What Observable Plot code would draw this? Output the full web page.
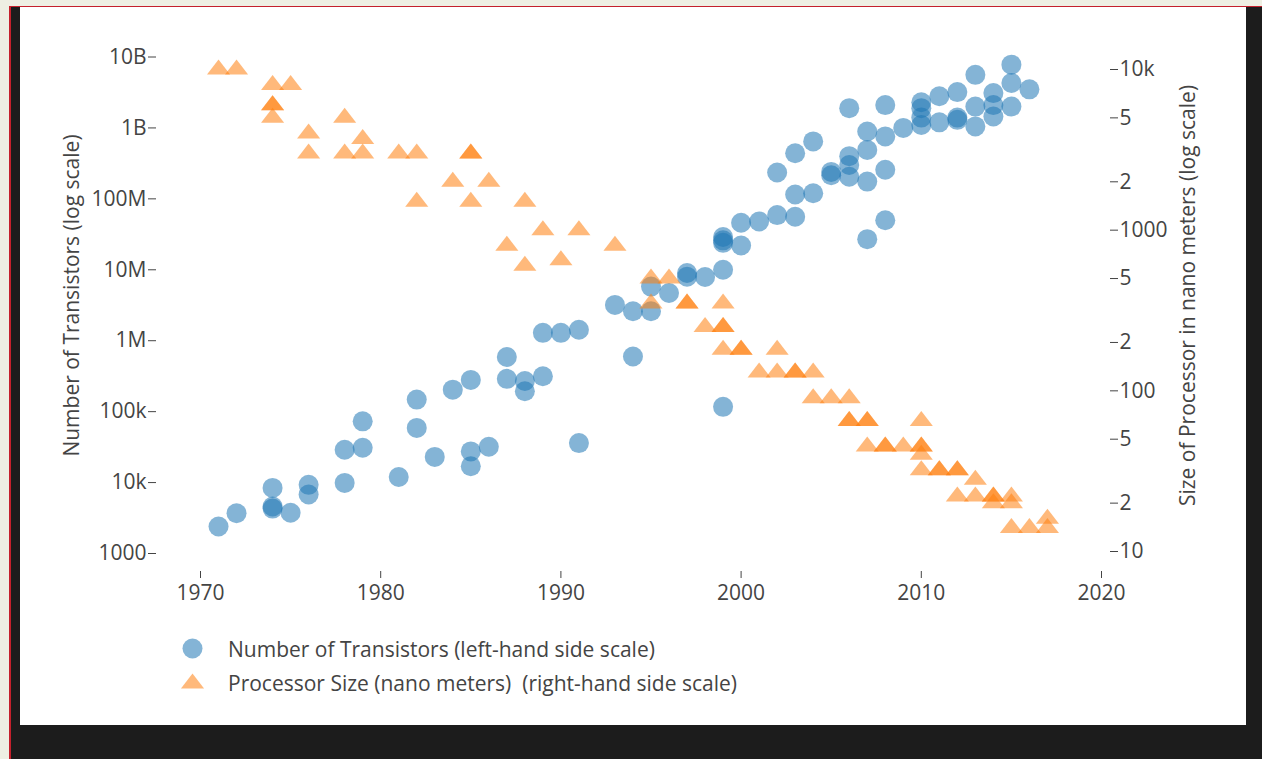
<!DOCTYPE html>
<html>
<head>
<meta charset="utf-8">
<script src="https://cdn.jsdelivr.net/npm/d3@7"></script>
<script src="https://cdn.jsdelivr.net/npm/@observablehq/plot@0.6"></script>
<style>
  html, body { margin: 0; padding: 0; }
  body { width: 1262px; height: 759px; overflow: hidden; background: #eeefe3; font-family: "Open Sans", sans-serif; }
  #page { position: relative; width: 1262px; height: 759px; }
  #dark { position: absolute; left: 9px; top: 6px; width: 1253px; height: 753px; background: #1c1c1c;
          border-top: 1px solid #c4202c; border-left: 2px solid #c4202c; box-sizing: border-box; }
  #panel { position: absolute; left: 20px; top: 7px; width: 1226px; height: 718px; background: #ffffff; }
  .layer { position: absolute; left: 0; top: 0; }
  .layer svg { background: transparent !important; overflow: visible; }
</style>
</head>
<body>
<div id="page">
  <div id="dark"></div>
  <div id="panel"></div>
  <div id="c1" class="layer"></div>
  <div id="c2" class="layer"></div>
  <div id="legend" class="layer"></div>
</div>
<script>
// ---------- data ----------
const transistorYear = [
  1971, 1972, 1974, 1974, 1974, 1975, 1976, 1976, 1978, 1978,
  1979, 1979, 1981, 1982, 1982, 1983, 1984, 1985, 1985, 1985,
  1986, 1987, 1987, 1988, 1988, 1989, 1989, 1990, 1991, 1991,
  1993, 1994, 1994, 1995, 1995, 1996, 1997, 1997, 1998, 1999,
  1999, 1999, 1999, 1999, 2000, 2000, 2001, 2002, 2002, 2003,
  2003, 2003, 2004, 2004, 2005, 2005, 2006, 2006, 2006, 2006,
  2007, 2007, 2007, 2007, 2008, 2008, 2008, 2008, 2009, 2010,
  2010, 2010, 2010, 2011, 2011, 2012, 2012, 2012, 2013, 2013,
  2013, 2014, 2014, 2014, 2015, 2015, 2015, 2016
];
const transistorCount = [
  2400, 3700, 8400, 4600, 4300, 3750, 9300, 6800, 9900, 29000,
  31000, 73000, 12000, 59000, 148000, 23000, 204000, 280000, 27500, 17000,
  32000, 590000, 290000, 270000, 194000, 316000, 1290000, 1290000, 1430000, 36000,
  3200000, 2600000, 600000, 2600000, 5800000, 4700000, 8000000, 9000000, 7900000, 10000000,
  29000000, 24000000, 26000000, 117000, 22000000, 46000000, 48000000, 59000000, 235000000, 56000000,
  115000000, 440000000, 120000000, 645000000, 240000000, 215000000, 1900000000, 400000000, 300000000, 205000000,
  890000000, 490000000, 175000000, 27000000, 2100000000, 760000000, 257000000, 50000000, 1000000000, 2300000000,
  1900000000, 1400000000, 1100000000, 2800000000, 1200000000, 3200000000, 1400000000, 1300000000, 5600000000, 2000000000,
  1050000000, 3100000000, 2100000000, 1450000000, 7800000000, 4300000000, 2000000000, 3500000000
];
const sizeYear = [
  1971, 1972, 1974, 1975, 1974, 1974, 1974, 1976, 1976, 1978,
  1978, 1979, 1979, 1981, 1982, 1982, 1984, 1985, 1985, 1985,
  1986, 1987, 1988, 1988, 1989, 1990, 1991, 1993, 1995, 1995,
  1996, 1997, 1997, 1998, 1999, 1999, 1999, 1999, 2000, 2000,
  2001, 2002, 2002, 2003, 2003, 2004, 2004, 2005, 2006, 2006,
  2006, 2007, 2007, 2007, 2008, 2008, 2009, 2010, 2010, 2010,
  2010, 2010, 2011, 2011, 2012, 2012, 2012, 2013, 2013, 2014,
  2014, 2014, 2015, 2015, 2015, 2016, 2017, 2017
];
const sizeNm = [
  10000, 10000, 8000, 8000, 6000, 6000, 5000, 4000, 3000, 5000,
  3000, 3700, 3000, 3000, 3000, 1500, 2000, 3000, 3000, 1500,
  2000, 800, 1500, 600, 1000, 650, 1000, 800, 500, 350,
  500, 350, 350, 250, 350, 250, 250, 180, 180, 180,
  130, 180, 130, 130, 130, 130, 90, 90, 90, 65,
  65, 65, 65, 45, 45, 45, 45, 65, 45, 45,
  40, 32, 32, 32, 32, 32, 22, 28, 22, 22,
  22, 20, 22, 20, 14, 14, 16, 14
];

const xTicks = [1970, 1980, 1990, 2000, 2010, 2020];
const leftTicks = [1e3, 1e4, 1e5, 1e6, 1e7, 1e8, 1e9, 1e10];
const leftTickLabels = ["1000", "10k", "100k", "1M", "10M", "100M", "1B", "10B"];
const rightTicks = [10, 20, 50, 100, 200, 500, 1000, 2000, 5000, 10000];
const rightTickLabels = ["10", "2", "5", "100", "2", "5", "1000", "2", "5", "10k"];

const seriesNames = [
  "Number of Transistors (left-hand side scale)",
  "Processor Size (nano meters)  (right-hand side scale)"
];
const leftTitle = "Number of Transistors (log scale)";
const rightTitle = "Size of Processor in nano meters (log scale)";

// ---------- build ----------
const transistors = transistorYear.map((y, i) => ({year: y, count: transistorCount[i]}));
const sizes = sizeYear.map((y, i) => ({year: y, nm: sizeNm[i]}));
const leftMap = new Map(leftTicks.map((t, i) => [t, leftTickLabels[i]]));
const rightMap = new Map(rightTicks.map((t, i) => [t, rightTickLabels[i]]));

const BLUE = "#1f77b4", ORANGE = "#ff7f0e", OP = 0.55;
const W = 1262, H = 620;
const FONT = "'Open Sans', 'Noto Sans', sans-serif";
const common = {
  width: W, height: H,
  marginTop: 19, marginBottom: 49, marginLeft: 156, marginRight: 153,
  style: {fontFamily: FONT, fontSize: "21px", color: "#444", background: "transparent", overflow: "visible"}
};
const xScale = {type: "linear", domain: [1970, 2020], range: [200, 1101]};

// plotly-like triangle (flattened, centred on centroid)
const plotlyTriangle = {
  draw(context, size) {
    const r = Math.sqrt(size / Math.PI);
    const rt = r * 2 / Math.sqrt(3);
    context.moveTo(-rt, r / 2);
    context.lineTo(rt, r / 2);
    context.lineTo(0, -r);
    context.closePath();
  }
};

const p1 = Plot.plot({
  ...common,
  x: xScale,
  y: {type: "log", domain: [1e3, 1e10], range: [553, 56.5]},
  marks: [
    Plot.axisX({ticks: xTicks, tickFormat: d => String(d), tickSize: 7, tickPadding: 7, label: null, fontSize: 21}),
    Plot.axisY({anchor: "left", ticks: leftTicks, text: d => leftMap.get(d), tickSize: 8, tickPadding: 2,
      fontSize: 21, label: leftTitle, labelAnchor: "center", labelOffset: 92, labelArrow: "none"}),
    Plot.dot(transistors, {x: "year", y: "count", r: 10, fill: BLUE, fillOpacity: OP, stroke: "none"})
  ]
});
document.getElementById("c1").appendChild(p1);

const p2 = Plot.plot({
  ...common,
  x: {...xScale, axis: null},
  y: {type: "log", domain: [10, 1e4], range: [551, 69]},
  marks: [
    Plot.axisY({anchor: "right", ticks: rightTicks, text: d => rightMap.get(d), tickSize: 8, tickPadding: 2,
      fontSize: 21, label: rightTitle, labelAnchor: "center", labelOffset: 85, labelArrow: "none"}),
    Plot.dot(sizes, {x: "year", y: "nm", r: 10, symbol: plotlyTriangle, fill: ORANGE, fillOpacity: OP, stroke: "none"})
  ]
});
document.getElementById("c2").appendChild(p2);

// ---------- legend ----------
const ns = "http://www.w3.org/2000/svg";
const lg = document.createElementNS(ns, "svg");
lg.setAttribute("width", W); lg.setAttribute("height", 759);
lg.style.position = "absolute"; lg.style.left = "0"; lg.style.top = "0";
lg.style.fontFamily = FONT;
const c = document.createElementNS(ns, "circle");
c.setAttribute("cx", 192.5); c.setAttribute("cy", 648.5); c.setAttribute("r", 10);
c.setAttribute("fill", BLUE); c.setAttribute("fill-opacity", OP);
lg.appendChild(c);
const tri = document.createElementNS(ns, "path");
const tp = d3.path(); plotlyTriangle.draw(tp, 10 * 10 * Math.PI);
tri.setAttribute("d", tp.toString());
tri.setAttribute("transform", "translate(192.5,683.5)");
tri.setAttribute("fill", ORANGE); tri.setAttribute("fill-opacity", OP);
lg.appendChild(tri);
[[656.5, seriesNames[0]], [690.5, seriesNames[1]]].forEach(([yb, label]) => {
  const t = document.createElementNS(ns, "text");
  t.setAttribute("x", 228); t.setAttribute("y", yb);
  t.setAttribute("fill", "#444"); t.setAttribute("font-size", "21px");
  t.setAttribute("xml:space", "preserve"); t.style.whiteSpace = "pre";
  t.textContent = label;
  lg.appendChild(t);
});
document.getElementById("legend").appendChild(lg);
</script>
</body>
</html>
